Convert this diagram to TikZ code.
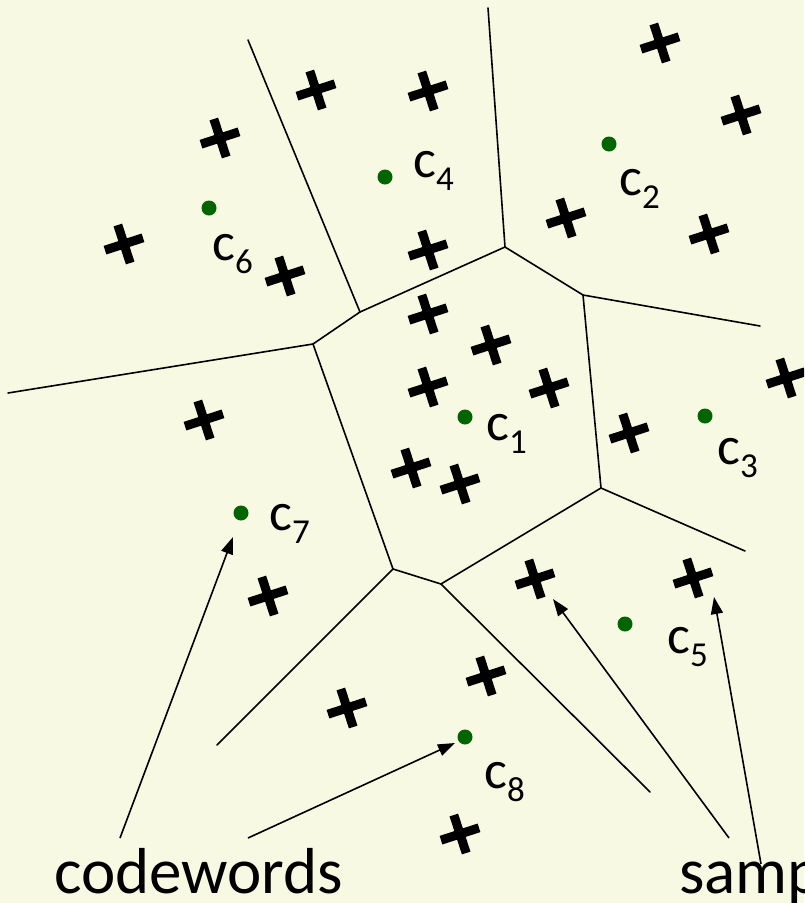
\documentclass[tikz,border=0pt]{standalone}
\usepackage{fontspec}
\setmainfont{Carlito}
\usetikzlibrary{arrows.meta}
\definecolor{bg}{RGB}{248,249,227}
\definecolor{cw}{RGB}{0,100,0}
\newcommand{\cwl}[1]{c\raisebox{-13pt}{\fontsize{35}{40}\selectfont #1}}
\begin{document}
\begin{tikzpicture}[x=1pt,y=-1pt,
  vor/.style={line width=1.6pt, line cap=round},
  pointer/.style={line width=1.6pt, -{Triangle[length=17pt,width=12pt]}},
  cdot/.style={circle, fill=cw, inner sep=0pt, minimum size=15pt},
  lab/.style={anchor=base west, inner sep=0pt, font=\fontsize{54}{60}\selectfont},
  big/.style={anchor=base west, inner sep=0pt, font=\fontsize{65}{70}\selectfont},
  xmark/.pic={\draw[line width=9pt] (-20,0)--(20,0) (0,-20)--(0,20);}]
\useasboundingbox (0,0) rectangle (804,903);
\clip (0,0) rectangle (804,903);
\fill[bg] (0,0) rectangle (804,903);

% Voronoi vertices
\coordinate (A) at (248,40);
\coordinate (B) at (360,312);
\coordinate (C) at (313,344);
\coordinate (D) at (8,393);
\coordinate (E) at (393,569);
\coordinate (F) at (505,247);
\coordinate (G) at (488,8);
\coordinate (H) at (583,295);
\coordinate (I) at (760,326);
\coordinate (J) at (601,488);
\coordinate (K) at (745,551);
\coordinate (L) at (441,584);
\coordinate (M) at (650,792);
\coordinate (N) at (217,745);
\draw[vor] (A)--(B)--(C)--(D);
\draw[vor] (C)--(E)--(N);
\draw[vor] (B)--(F)--(G);
\draw[vor] (F)--(H)--(I);
\draw[vor] (H)--(J)--(K);
\draw[vor] (J)--(L)--(E);
\draw[vor] (L)--(M);

% samples
\foreach \p in {(316,90),(428,91),(660,43),(741,115),(220,138),(566,218),(709,234),
  (124,244),(285,276),(428,250),(428,314),(491,345),(428,387),(549,388),(786,378),
  (204,420),(629,433),(411,468),(460,484),(535,579),(693,578),(268,596),(486,676),
  (347,708),(460,834)}
  \pic[rotate=18] at \p {xmark};

% codewords
\node[cdot] (c1) at (465,417) {};
\node[cdot] (c2) at (609,144) {};
\node[cdot] (c3) at (705,416) {};
\node[cdot] (c4) at (385,177) {};
\node[cdot] (c5) at (625,624) {};
\node[cdot] (c6) at (209,208) {};
\node[cdot] (c7) at (241,513) {};
\node[cdot] (c8) at (465,737) {};

\node[lab] (l1) at (486,440) {\cwl{1}};
\node[lab] (l2) at (619,195) {\cwl{2}};
\node[lab] (l3) at (717,464) {\cwl{3}};
\node[lab] (l4) at (413,177) {\cwl{4}};
\node[lab] (l5) at (667,653) {\cwl{5}};
\node[lab] (l6) at (212,260) {\cwl{6}};
\node[lab] (l7) at (269,530) {\cwl{7}};
\node[lab] (l8) at (484,788) {\cwl{8}};

% captions
\node[big] (codewords) at (54,893) {codewords};
\node[big] (samples) at (679,893) {samples};

% arrows
\coordinate (cwa) at (120,838);
\coordinate (cwb) at (248,838);
\coordinate (t7) at (233,537);
\coordinate (t8) at (455,743);
\coordinate (sa) at (729,838);
\coordinate (sb) at (761,864);
\coordinate (s20) at (553,599);
\coordinate (s21) at (714,597);
\draw[pointer] (cwa) -- (t7);
\draw[pointer] (cwb) -- (t8);
\draw[pointer] (sa) -- (s20);
\draw[pointer] (sb) -- (s21);
\end{tikzpicture}
\end{document}
